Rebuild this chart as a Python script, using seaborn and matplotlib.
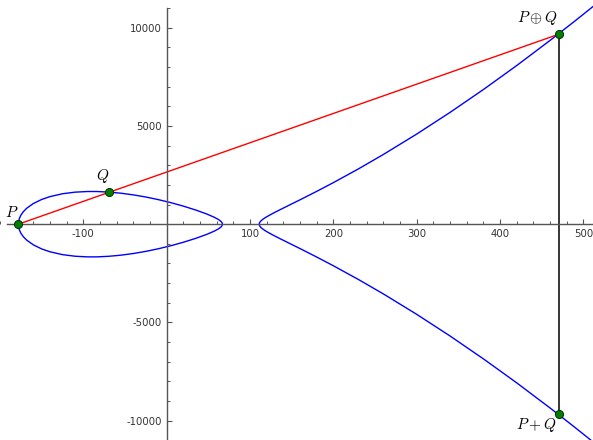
import matplotlib
matplotlib.use("Agg")
import matplotlib.pyplot as plt
import pandas as pd
import seaborn as sns
from matplotlib.ticker import FixedLocator, FuncFormatter, MultipleLocator

# points on the oval (bounded component)
oval_x = [-178, -177, -175, -172, -168, -160, -150, -140, -125, -110, -95, -84,
          -70, -55, -40, -25, -10, 5, 20, 35, 48, 57, 62, 65, 66.5, 67]
oval_upper = [0, 265, 456, 637, 810, 1052, 1259, 1405, 1550, 1631, 1664, 1664,
              1636, 1578, 1493, 1384, 1251, 1097, 920, 720, 520, 356, 242, 150, 74, 0]
oval_lower = [0, -265, -456, -637, -810, -1052, -1259, -1405, -1550, -1631, -1664, -1664,
              -1636, -1578, -1493, -1384, -1251, -1097, -920, -720, -520, -356, -242, -150, -74, 0]

# points on the unbounded branch
branch_x = [111, 111.5, 113, 116, 120, 127, 135, 145, 160, 180, 200, 230, 260,
            300, 340, 380, 420, 460, 490, 512]
branch_upper = [0, 80, 164, 268, 377, 541, 715, 926, 1241, 1671, 2115, 2813, 3549,
                4588, 5691, 6854, 8076, 9355, 10349, 11096]
branch_lower = [0, -80, -164, -268, -377, -541, -715, -926, -1241, -1671, -2115, -2813, -3549,
                -4588, -5691, -6854, -8076, -9355, -10349, -11096]

# labelled points
pt_names = ["$P$", "$Q$", r"$P\oplus Q$", "$P+Q$"]
pt_x = [-178, -69, 471, 471]
pt_y = [0, 1626, 9680, -9680]

# labelled ticks
x_ticks = [-100, 100, 200, 300, 400, 500]
y_ticks = [-10000, -5000, 5000, 10000]

plt.rcParams["mathtext.fontset"] = "cm"
plt.rcParams["axes.unicode_minus"] = False

fig = plt.figure(figsize=(5.93, 4.40), dpi=100)
ax = fig.add_axes([0, 0, 1, 1])

oval = pd.DataFrame({"x": oval_x + oval_x[::-1], "y": oval_upper + oval_lower[::-1]})
branch = pd.DataFrame({"x": branch_x[::-1] + branch_x[1:],
                       "y": branch_lower[::-1] + branch_upper[1:]})

sns.lineplot(data=oval, x="x", y="y", sort=False, estimator=None, color="blue", lw=1.0, ax=ax)
sns.lineplot(data=branch, x="x", y="y", sort=False, estimator=None, color="blue", lw=1.0, ax=ax)

# chord through P, Q and the third point, then the reflection
sns.lineplot(x=[pt_x[0], pt_x[2]], y=[pt_y[0], pt_y[2]], sort=False, estimator=None,
             color="red", lw=1.0, ax=ax)
sns.lineplot(x=[pt_x[2], pt_x[3]], y=[pt_y[2], pt_y[3]], sort=False, estimator=None,
             color="black", lw=1.1, ax=ax)

sns.scatterplot(x=pt_x, y=pt_y, s=34, color="#008000", edgecolor="#003000",
                linewidth=0.7, zorder=5, ax=ax)

offsets = [(0, 3), (0, 5), (-1, 5), (-2, -1)]
valigns = ["bottom", "bottom", "bottom", "top"]
for name, x, y, off, va in zip(pt_names, pt_x, pt_y, offsets, valigns):
    ax.annotate(name, (x, y), xytext=off, textcoords="offset points",
                ha="right", va=va, fontsize=11)

ax.set_xlim(-200, 511.6)
ax.set_ylim(-10988, 11415)
ax.set_xlabel("")
ax.set_ylabel("")

for side in ["top", "right"]:
    ax.spines[side].set_visible(False)
for side in ["left", "bottom"]:
    ax.spines[side].set_position(("data", 0))
    ax.spines[side].set_color("#555555")
    ax.spines[side].set_linewidth(1.0)
ax.spines["bottom"].set_bounds(-192, 520)
ax.spines["left"].set_bounds(-11000, 11000)

ax.xaxis.set_major_locator(FixedLocator(x_ticks))
ax.xaxis.set_minor_locator(MultipleLocator(20))
ax.yaxis.set_major_locator(FixedLocator(y_ticks))
ax.yaxis.set_minor_locator(MultipleLocator(1000))
ax.xaxis.set_major_formatter(FuncFormatter(lambda v, p: f"{v:.0f}"))
ax.yaxis.set_major_formatter(FuncFormatter(lambda v, p: f"{v:.0f}"))
ax.tick_params(which="both", direction="in", color="#555555", labelcolor="#333333",
               labelsize=7.3, pad=3.6)
ax.tick_params(which="major", length=3.5, width=0.8)
ax.tick_params(which="minor", length=2.2, width=0.7)
ax.patch.set_visible(False)

fig.savefig("out.png", dpi=100)
